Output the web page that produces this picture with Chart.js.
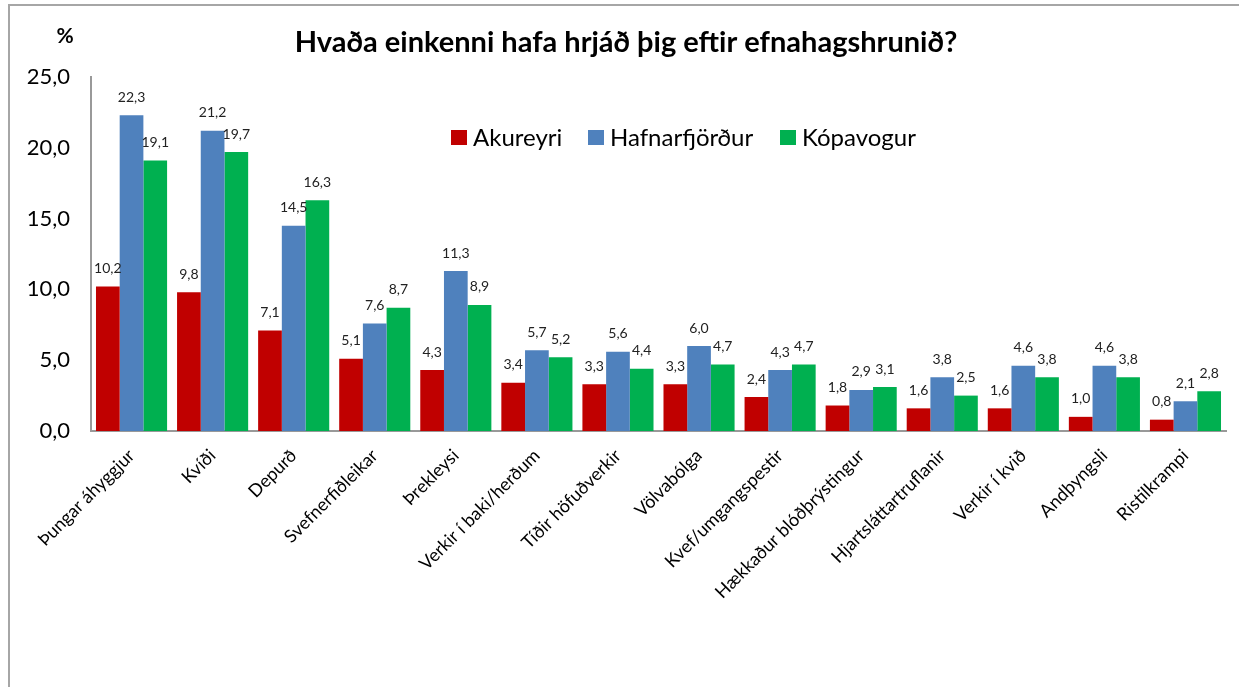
<!DOCTYPE html>
<html lang="is">
<head>
  <meta charset="UTF-8">
  <title>Hvaða einkenni hafa hrjáð þig eftir efnahagshrunið?</title>
  <script src="https://cdn.jsdelivr.net/npm/chart.js"></script>
  <style>
    html, body { margin: 0; padding: 0; background: #fff; }
    .wrap { position: relative; width: 1239px; height: 687px; overflow: hidden; }
    .frame {
      position: absolute; left: 8px; top: 4px; right: -10px; bottom: -10px;
      border-left: 2px solid #a6a6a6; border-top: 2px solid #a6a6a6;
      pointer-events: none;
    }
    canvas { position: absolute; left: 0; top: 0; }
  </style>
</head>
<body>
  <div class="wrap">
    <canvas id="chart" width="1239" height="687"></canvas>
    <div class="frame"></div>
  </div>
  <script>
    // Einkenni (flokkar)
    const categories = [
      'Þungar áhyggjur', 'Kvíði', 'Depurð', 'Svefnerfiðleikar', 'Þrekleysi',
      'Verkir í baki/herðum', 'Tíðir höfuðverkir', 'Völvabólga', 'Kvef/umgangspestir',
      'Hækkaður blóðþrýstingur', 'Hjartsláttartruflanir', 'Verkir í kvið', 'Andþyngsli', 'Ristilkrampi'
    ];
    const akureyri = [10.2, 9.8, 7.1, 5.1, 4.3, 3.4, 3.3, 3.3, 2.4, 1.8, 1.6, 1.6, 1.0, 0.8];
    const hafnarfjordur = [22.3, 21.2, 14.5, 7.6, 11.3, 5.7, 5.6, 6.0, 4.3, 2.9, 3.8, 4.6, 4.6, 2.1];
    const kopavogur = [19.1, 19.7, 16.3, 8.7, 8.9, 5.2, 4.4, 4.7, 4.7, 3.1, 2.5, 3.8, 3.8, 2.8];
    const seriesNames = ['Akureyri', 'Hafnarfjörður', 'Kópavogur'];
    const seriesColors = ['#c00000', '#4f81bd', '#00b050'];
    const yTicks = [0, 5, 10, 15, 20, 25];

    const FONT = "Lato, 'Noto Sans', sans-serif";
    const fmt = v => v.toFixed(1).replace('.', ',');

    Chart.defaults.font.family = FONT;
    Chart.defaults.color = '#000';

    // gildi ofan við hverja súlu
    const valueLabels = {
      id: 'valueLabels',
      afterDatasetsDraw(chart) {
        const ctx = chart.ctx;
        ctx.save();
        ctx.font = '14px ' + FONT;
        ctx.fillStyle = '#222';
        ctx.textAlign = 'center';
        ctx.textBaseline = 'middle';
        chart.data.datasets.forEach((ds, i) => {
          chart.getDatasetMeta(i).data.forEach((bar, j) => {
            ctx.fillText(fmt(ds.data[j]), bar.x, bar.y - 18);
          });
        });
        ctx.restore();
      }
    };

    // titill, prósentumerki og skýringar
    const headings = {
      id: 'headings',
      afterDraw(chart) {
        const ctx = chart.ctx;
        ctx.save();
        ctx.fillStyle = '#000';
        ctx.textBaseline = 'middle';
        ctx.textAlign = 'center';
        ctx.font = 'bold 29px ' + FONT;
        ctx.fillText('Hvaða einkenni hafa hrjáð þig eftir efnahagshrunið?', 626, 43);
        ctx.font = 'bold 21px ' + FONT;
        ctx.fillText('%', 65, 36);

        ctx.textAlign = 'left';
        ctx.font = '24px ' + FONT;
        const legendX = [451, 588, 780];
        chart.data.datasets.forEach((ds, i) => {
          ctx.fillStyle = ds.backgroundColor;
          ctx.fillRect(legendX[i], 130, 16, 15);
          ctx.fillStyle = '#000';
          ctx.fillText(ds.label, legendX[i] + 22, 138);
        });
        ctx.restore();
      }
    };

    const datasets = [akureyri, hafnarfjordur, kopavogur].map((data, i) => ({
      label: seriesNames[i],
      data: data,
      backgroundColor: seriesColors[i],
      borderWidth: 0,
      categoryPercentage: 0.877,
      barPercentage: 1.0
    }));

    new Chart(document.getElementById('chart'), {
      type: 'bar',
      data: { labels: categories, datasets: datasets },
      plugins: [valueLabels, headings],
      options: {
        responsive: false,
        animation: false,
        layout: { padding: { top: 77, right: 13, left: 0, bottom: 0 } },
        plugins: {
          legend: { display: false },
          title: { display: false },
          tooltip: { enabled: false }
        },
        scales: {
          x: {
            afterFit(scale) { scale.height = 256; },
            grid: { display: false, drawTicks: false },
            border: { display: true, color: '#999', width: 2 },
            ticks: {
              maxRotation: 45, minRotation: 45, autoSkip: false, padding: 14,
              font: { size: 18 }, color: '#000'
            }
          },
          y: {
            min: 0, max: 25,
            afterFit(scale) { scale.width = 91; },
            afterBuildTicks(scale) { scale.ticks = yTicks.map(v => ({ value: v })); },
            grid: { display: false, drawOnChartArea: false, drawTicks: true, tickLength: 7, tickColor: '#999', tickWidth: 2 },
            border: { display: true, color: '#999', width: 2 },
            ticks: {
              padding: 14, font: { size: 22 }, color: '#000',
              callback: v => fmt(v)
            }
          }
        }
      }
    });
  </script>
</body>
</html>
